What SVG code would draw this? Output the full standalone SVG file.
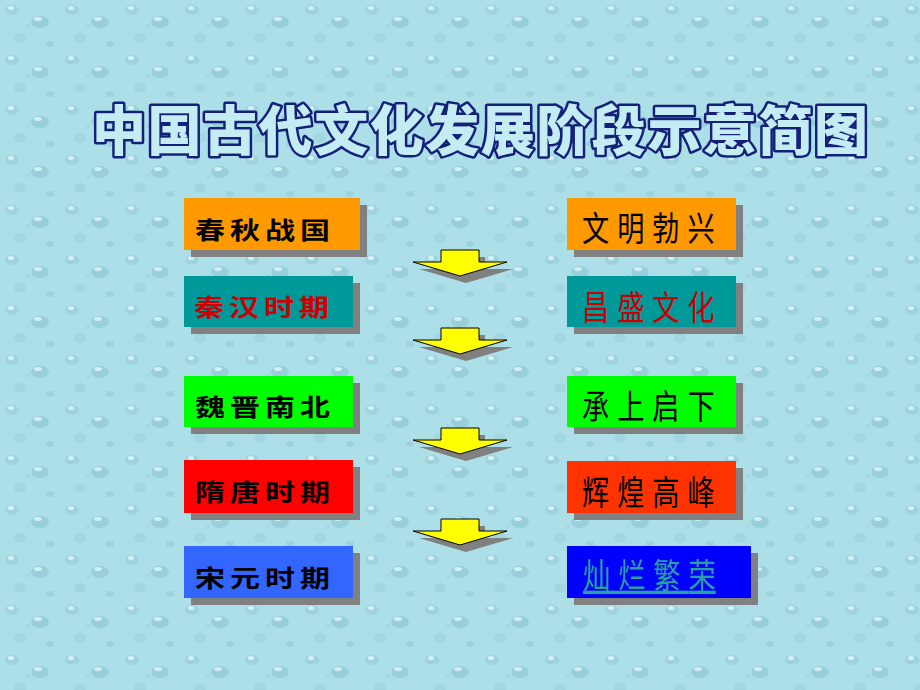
<svg xmlns="http://www.w3.org/2000/svg" width="920" height="690" viewBox="0 0 920 690">
<defs>
<style>
.shadow{fill:#808080}
.lt{font-family:"Noto Sans CJK SC","Noto Sans",sans-serif;font-weight:700;font-size:24px;letter-spacing:4px;dominant-baseline:central}
.rt{font-family:"Noto Sans CJK SC","Noto Sans",sans-serif;font-weight:400;font-size:34px;letter-spacing:10px;dominant-baseline:central}
.title{font-family:"Noto Sans CJK SC","Noto Sans",sans-serif;font-weight:900;font-size:54px;fill:#c4ecf3;stroke:#14207a;stroke-width:5;paint-order:stroke;stroke-linejoin:round;dominant-baseline:central}
.arrow{fill:#ffff00;stroke:#000;stroke-width:1}
</style>
<pattern id="drops" width="60" height="50" patternUnits="userSpaceOnUse">
<rect width="60" height="50" fill="#acdfe8"/>
<ellipse cx="12" cy="10" rx="7" ry="5" fill="#9fd4df"/>
<ellipse cx="11" cy="8" rx="3" ry="2" fill="#d4f1f6"/>
<ellipse cx="40" cy="22" rx="9" ry="6" fill="#98cfdb"/>
<ellipse cx="38" cy="19" rx="4" ry="2" fill="#d0eff5"/>
<ellipse cx="20" cy="38" rx="6" ry="5" fill="#a2d6e1"/>
<ellipse cx="50" cy="44" rx="4" ry="3" fill="#9ed3de"/>
<ellipse cx="28" cy="26" rx="2.5" ry="2" fill="#a5d8e2"/>
</pattern>
<path id="arr" d="M441,0 H479 V12 H507 L460,26 L413,12 H441 Z"/>
</defs>
<rect width="920" height="690" fill="url(#drops)"/>

<g id="title">
<text class="title" x="92" y="127" textLength="776" lengthAdjust="spacing">中国古代文化发展阶段示意简图</text>
</g>

<g id="connectors">
<use href="#arr" class="shadow" transform="translate(6,257)"/>
<use href="#arr" class="arrow" transform="translate(0,250)"/>
<use href="#arr" class="shadow" transform="translate(6,335)"/>
<use href="#arr" class="arrow" transform="translate(0,328)"/>
<use href="#arr" class="shadow" transform="translate(6,435)"/>
<use href="#arr" class="arrow" transform="translate(0,428)"/>
<use href="#arr" class="shadow" transform="translate(6,526)"/>
<use href="#arr" class="arrow" transform="translate(0,519)"/>
</g>

<g id="l1">
<rect class="shadow" x="191" y="205" width="176" height="52"/>
<rect x="184" y="198" width="176" height="52" fill="#ff9900"/>
<text class="lt" transform="translate(195,228) scale(1.25,1)" fill="#000">春秋战国</text>
</g>
<g id="l2">
<rect class="shadow" x="191" y="283" width="169" height="51"/>
<rect x="184" y="276" width="169" height="51" fill="#009999"/>
<text class="lt" transform="translate(194,305) scale(1.25,1)" fill="#cc0000">秦汉时期</text>
</g>
<g id="l3">
<rect class="shadow" x="191" y="383" width="169" height="51"/>
<rect x="184" y="376" width="169" height="51" fill="#00ff00"/>
<text class="lt" transform="translate(195,405) scale(1.25,1)" fill="#000">魏晋南北</text>
</g>
<g id="l4">
<rect class="shadow" x="191" y="467" width="169" height="53"/>
<rect x="184" y="460" width="169" height="53" fill="#ff0000"/>
<text class="lt" transform="translate(195,490) scale(1.25,1)" fill="#000">隋唐时期</text>
</g>
<g id="l5">
<rect class="shadow" x="191" y="553" width="169" height="52"/>
<rect x="184" y="546" width="169" height="52" fill="#3366ff"/>
<text class="lt" transform="translate(195,576) scale(1.25,1)" fill="#000">宋元时期</text>
</g>

<g id="r1">
<rect class="shadow" x="574" y="205" width="169" height="52"/>
<rect x="567" y="198" width="169" height="52" fill="#ff9900"/>
<text class="rt" transform="translate(582,226) scale(0.8,1)" fill="#000">文明勃兴</text>
</g>
<g id="r2">
<rect class="shadow" x="574" y="283" width="169" height="51"/>
<rect x="567" y="276" width="169" height="51" fill="#009999"/>
<text class="rt" transform="translate(582,305) scale(0.8,1)" fill="#cc0000">昌盛文化</text>
</g>
<g id="r3">
<rect class="shadow" x="574" y="383" width="169" height="51"/>
<rect x="567" y="376" width="169" height="51" fill="#00ff00"/>
<text class="rt" transform="translate(582,404) scale(0.8,1)" fill="#000">承上启下</text>
</g>
<g id="r4">
<rect class="shadow" x="574" y="468" width="169" height="52"/>
<rect x="567" y="461" width="169" height="52" fill="#ff3300"/>
<text class="rt" transform="translate(582,490) scale(0.8,1)" fill="#000">辉煌高峰</text>
</g>
<g id="r5">
<rect class="shadow" x="574" y="553" width="184" height="52"/>
<rect x="567" y="546" width="184" height="52" fill="#0000ff"/>
<text class="rt" transform="translate(583,573) scale(0.8,1)" fill="#2a9f9f" text-decoration="underline"><tspan>灿烂繁</tspan><tspan style="letter-spacing:0">荣</tspan></text>
</g>
</svg>
